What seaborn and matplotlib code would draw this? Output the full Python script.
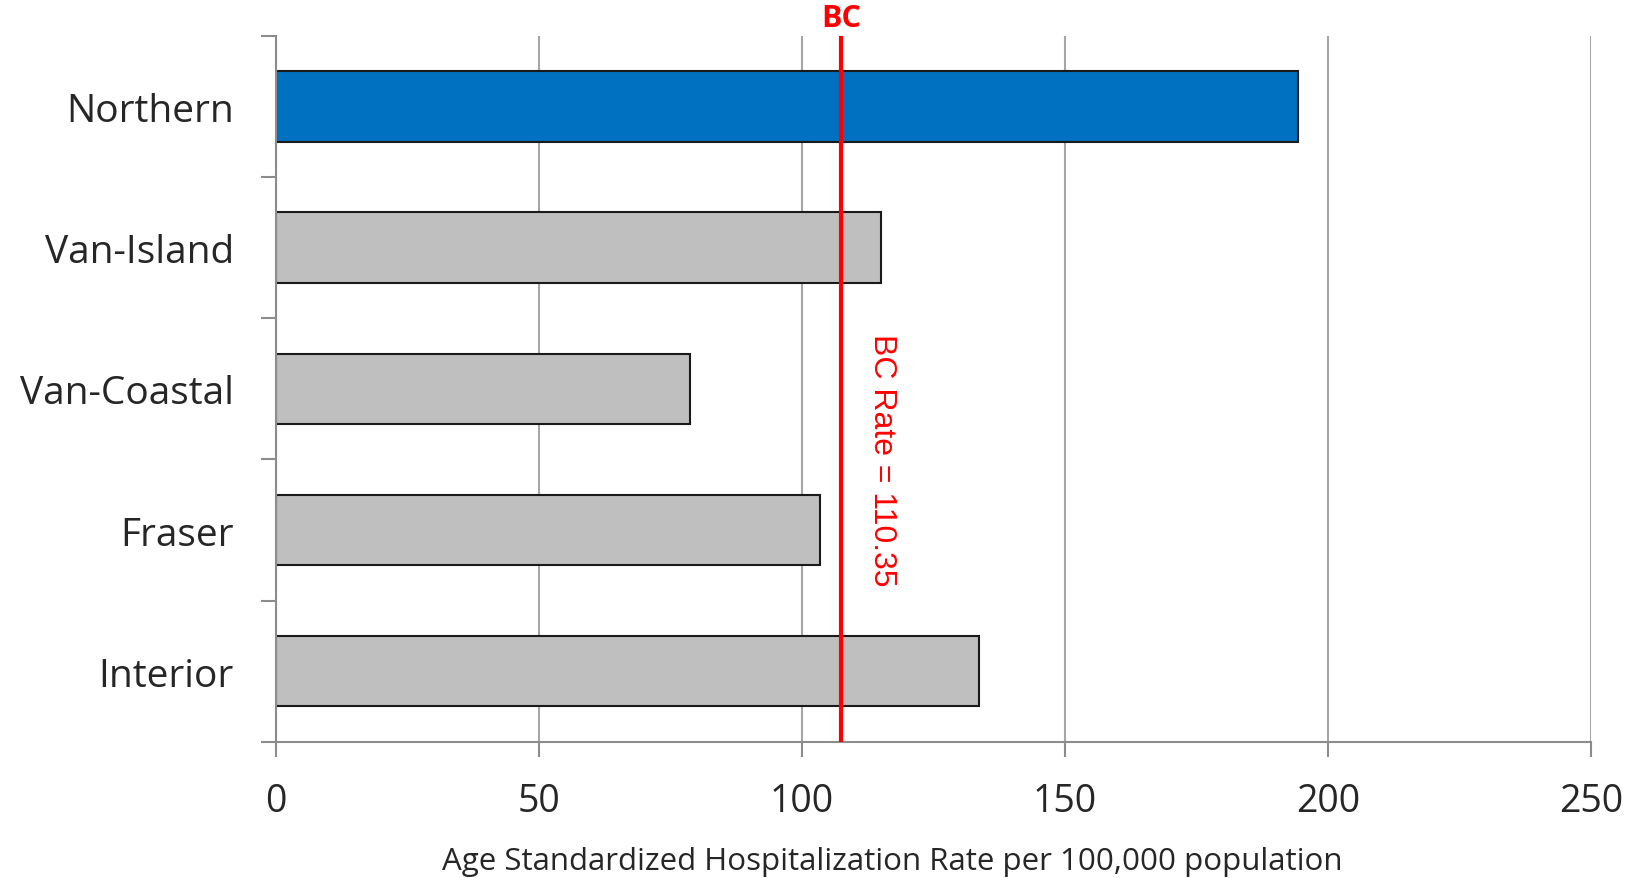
import numpy as np
import pandas as pd
import matplotlib
matplotlib.use('Agg')
import matplotlib.pyplot as plt
import seaborn as sns

# data
regions = ['Northern', 'Van-Island', 'Van-Coastal', 'Fraser', 'Interior']
rates = [194.3, 115.0, 78.8, 103.5, 133.8]
bar_colors = ['#0070C0', '#BFBFBF', '#BFBFBF', '#BFBFBF', '#BFBFBF']
bc_line = 107.5
bc_label = 'BC Rate = 110.35'
x_ticks = [0, 50, 100, 150, 200, 250]
x_label = 'Age Standardized Hospitalization Rate per 100,000 population'


def main():
    sns.set_style('white')
    plt.rcParams['font.family'] = ['Open Sans', 'DejaVu Sans']

    df = pd.DataFrame({'region': regions, 'rate': rates})

    fig = plt.figure(figsize=(16.4, 8.79), dpi=100)
    ax = fig.add_axes([0.168, 0.155, 0.802, 0.803])

    sns.barplot(data=df, x='rate', y='region', hue='region', order=regions,
                palette=dict(zip(regions, bar_colors)), orient='h', width=0.5,
                saturation=1, edgecolor='#1a1a1a', linewidth=1.5, legend=False, ax=ax)

    ax.set_xlim(0, 250)
    ax.set_ylim(len(regions) - 0.5, -0.5)
    ax.set_xticks(x_ticks)
    ax.xaxis.grid(True, color='#A6A6A6', linewidth=1.5)
    ax.set_axisbelow(True)

    # category ticks sit between the bars
    ax.set_yticks(np.arange(len(regions) + 1) - 0.5, minor=True)
    ax.tick_params(axis='y', which='major', length=0, labelsize=28, pad=30)
    ax.tick_params(axis='y', which='minor', length=11, width=1.5, color='#8C8C8C', direction='out', left=True)
    ax.tick_params(axis='x', which='major', length=11, width=1.5, color='#8C8C8C', direction='out',
                   labelsize=27, pad=18, bottom=True)

    for side in ['top', 'right']:
        ax.spines[side].set_visible(False)
    for side in ['left', 'bottom']:
        ax.spines[side].set_color('#8C8C8C')
        ax.spines[side].set_linewidth(1.5)

    ax.set_ylabel('')
    ax.set_xlabel(x_label, fontsize=22.5)
    ax.xaxis.set_label_coords(0.469, -0.148)

    # BC reference line
    ax.axvline(bc_line, color='#FF0000', linewidth=3, zorder=5)
    ax.text(bc_line, -0.52, 'BC', color='#FF0000', fontsize=22, fontweight='bold',
            ha='center', va='bottom', family=['Open Sans', 'DejaVu Sans'])
    ax.text(bc_line + 7.7, 2.5, bc_label, color='#FF0000', fontsize=23, rotation=-90,
            ha='center', va='center', family=['Liberation Sans', 'DejaVu Sans'])

    fig.savefig('out.png', dpi=100)
    plt.close(fig)


if __name__ == '__main__':
    main()
